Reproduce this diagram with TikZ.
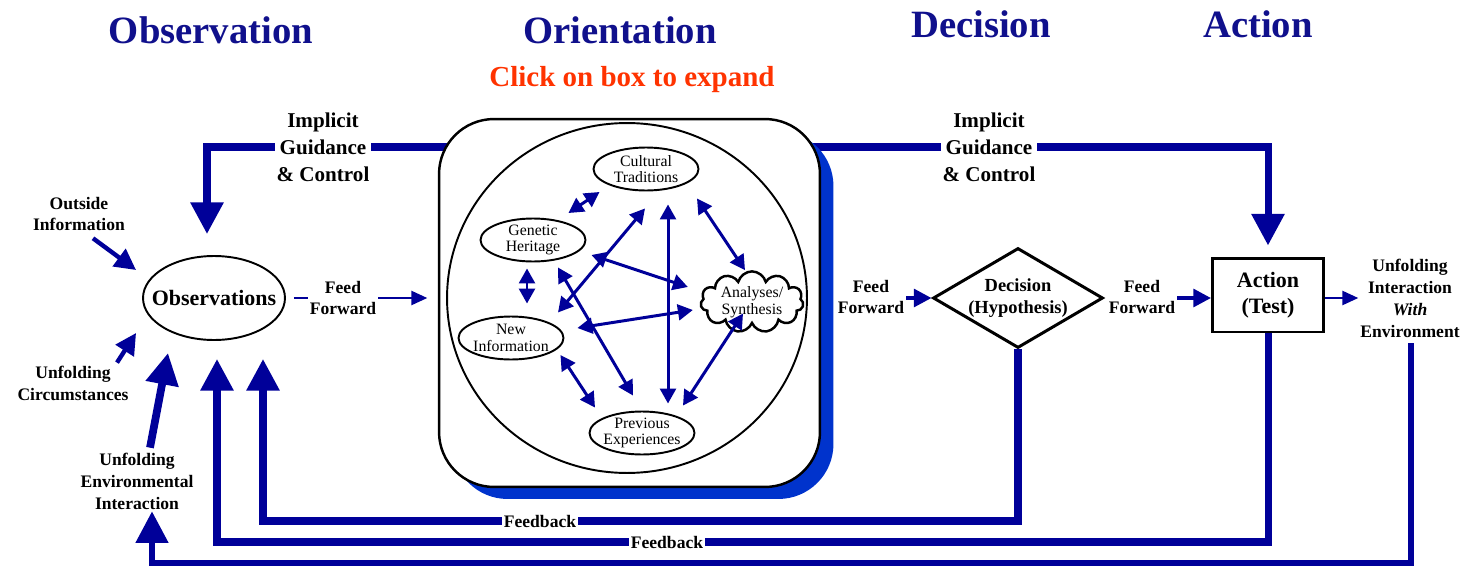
\documentclass[tikz,border=0pt]{standalone}
\usepackage{fontspec}
\setmainfont{Liberation Serif}
\usetikzlibrary{arrows.meta,shapes.geometric,shapes.symbols,backgrounds}
\definecolor{navy}{RGB}{0,0,153}
\definecolor{headblue}{RGB}{16,16,140}
\definecolor{clickred}{RGB}{255,51,0}
\definecolor{shadowblue}{RGB}{0,51,204}

\begin{document}
\begin{tikzpicture}[x=0.02cm,y=-0.02cm,
	head/.style={font=\bfseries\fontsize{22}{26}\selectfont,text=headblue,anchor=base},
	lbl/.style={font=\bfseries\fontsize{10}{12.5}\selectfont,align=center,inner sep=1pt},
	guide/.style={font=\bfseries\fontsize{12}{15.3}\selectfont,align=center,fill=white,inner sep=1pt},
	idea/.style={draw,ellipse,line width=1.1pt,font=\fontsize{9}{9.5}\selectfont,align=center,inner xsep=-3pt,inner ysep=-1pt,minimum width=2.1cm,minimum height=0.86cm},
	fat/.style={navy,line width=4pt,-{Triangle[length=18pt,width=18pt]}},
	mid/.style={navy,line width=2.5pt,-{Triangle[length=12pt,width=12pt]}},
	ff/.style={navy,line width=2.2pt,-{Triangle[length=10pt,width=10pt]}},
	thin/.style={navy,line width=1.1pt,-{Triangle[length=9pt,width=8pt]}},
	link/.style={navy,line width=1.7pt,{Triangle[length=8.5pt,width=9pt]}-{Triangle[length=8.5pt,width=9pt]}}]

	\useasboundingbox (0,0) rectangle (1464,568);

	% titles
	\node[head] (tobs) at (211,43) {Observation};
	\node[head] (tori) at (620,43) {Orientation};
	\node[head] (tdec) at (981,37) {Decision};
	\node[head] (tact) at (1258,37) {Action};
	\node[font=\bfseries\fontsize{16.5}{18}\selectfont,text=clickred,anchor=base] (click) at (632,86) {Click on box to expand};

	% orientation box
	\node[fill=shadowblue,rounded corners=1.1cm,minimum width=7.62cm,minimum height=7.36cm] (shade) at (643,315) {};
	\node[draw,fill=white,line width=1.4pt,rounded corners=1.1cm,minimum width=7.62cm,minimum height=7.36cm] (orient) at (629.5,303) {};
	\node[draw,ellipse,line width=1.1pt,minimum width=7.2cm,minimum height=7cm] (ring) at (627,298) {};
	\node[idea] (cult) at (646,169) {Cultural\\Traditions};
	\node[idea] (gen) at (533,240) {Genetic\\Heritage};
	\node[idea] (newi) at (511,338) {New\\Information};
	\node[idea] (prev) at (642,433) {Previous\\Experiences};
	\node[draw,cloud,cloud puffs=11,cloud ignores aspect,line width=1.4pt,minimum width=2.06cm,minimum height=1.2cm,
		font=\fontsize{9}{9.5}\selectfont,align=center,inner sep=0pt] (anal) at (752,302) {Analyses/\\Synthesis};

	% main nodes
	\node[draw,ellipse,line width=1.1pt,minimum width=2.84cm,minimum height=1.68cm,inner xsep=-7pt,
		font=\bfseries\fontsize{12.5}{14}\selectfont] (obs) at (214,298) {Observations};
	\node[draw,diamond,line width=1.7pt,aspect=1.7,inner sep=0pt,minimum width=3.4cm,minimum height=2cm,
		font=\bfseries\fontsize{10.5}{12.5}\selectfont,align=center] (dec) at (1018,298) {Decision\\(Hypothesis)};
	\node[draw,line width=1.7pt,minimum width=2.22cm,minimum height=1.48cm,
		font=\bfseries\fontsize{12.5}{14.5}\selectfont,align=center] (act) at (1268,295) {Action\\(Test)};

	% labels
	\node[lbl] (outside) at (79,214) {Outside\\Information};
	\node[lbl] (circ) at (73,383) {Unfolding\\Circumstances};
	\node[lbl] (unfenv) at (137,481) {Unfolding\\Environmental\\Interaction};
	\node[lbl,fill=white] (ffa) at (343,298) {Feed\\Forward};
	\node[lbl] (ffb) at (871,297) {Feed\\Forward};
	\node[lbl] (ffc) at (1142,297) {Feed\\Forward};
	\node[lbl] (unfint) at (1410,298) {Unfolding\\Interaction\\\textit{With}\\Environment};
	\node[guide] (igl) at (323,147) {Implicit\\Guidance\\\& Control};
	\node[guide] (igr) at (989,147) {Implicit\\Guidance\\\& Control};
	\node[lbl,fill=white] (fba) at (540,521) {Feedback};
	\node[lbl,fill=white] (fbb) at (667,542) {Feedback};

	\coordinate (inA) at ([shift={(49,18)}]obs.south);
	\coordinate (inB) at ([shift={(3,18)}]obs.south);
	\coordinate (inC) at ([shift={(15,0)}]unfenv.south);
	\coordinate (floor) at (0,563);

	% loops and feeds
	\begin{scope}[on background layer]
		\draw[fat] (orient.center |- igl) -| ([shift={(-7,-21)}]obs.north);
		\draw[fat] (orient.center |- igr) -| ([shift={(0,-11)}]act.north);
		\draw[fat] (dec.south) |- (inA |- fba) -- (inA);
		\draw[fat] (act.south) |- (inB |- fbb) -- (inB);
		\draw[fat,line width=3.4pt] ([shift={(1,4)}]unfint.south) |- (inC |- floor) -- (inC);
		\draw[mid] ([shift={(14,5)}]outside.south) -- ([shift={(-6,-28)}]obs.west);
		\draw[mid] ([shift={(44,-1)}]circ.north) -- ([shift={(-6,35)}]obs.west);
		\draw[fat,line width=4.4pt] ([shift={(13,-3)}]unfenv.north) -- ([shift={(-46,12)}]obs.south);
		\draw[thin,shorten >=6pt,shorten <=4.5pt] (obs.east) -- (obs.east -| orient.west);
		\draw[ff] (ffb.east |- dec.west) -- (dec.west);
		\draw[ff] (ffc.east |- dec.west) -- (dec.west -| act.west);
		\draw[thin] (act.east |- dec.west) -- (dec.west -| unfint.west);
	\end{scope}

	% inside orientation
	\draw[link] ([shift={(-18,-27)}]gen.east) -- ([shift={(7,23)}]cult.west);
	\draw[link] ([shift={(-6,6)}]gen.south) -- ([shift={(16,-12)}]newi.north);
	\draw[link] ([shift={(-4,17)}]newi.east) -- ([shift={(-47,-3)}]prev.north);
	\draw[link] ([shift={(51,7)}]cult.south) -- ([shift={(-7,0)}]anal.north);
	\draw[link] ([shift={(-9,-12)}]anal.south) -- ([shift={(41,-5)}]prev.north);
	\draw[link] ([shift={(22,13)}]cult.south) -- ([shift={(26,-7)}]prev.north);
	\draw[link] ([shift={(25,5)}]gen.south) -- ([shift={(-9,-15)}]prev.north);
	\draw[link] ([shift={(25,50)}]gen.south) -- ([shift={(-1,17)}]cult.south);
	\draw[link] ([shift={(5,15)}]gen.east) -- ([shift={(-12,-15)}]anal.west);
	\draw[link] ([shift={(13,-10)}]newi.east) -- ([shift={(-7,8)}]anal.west);
\end{tikzpicture}
\end{document}
